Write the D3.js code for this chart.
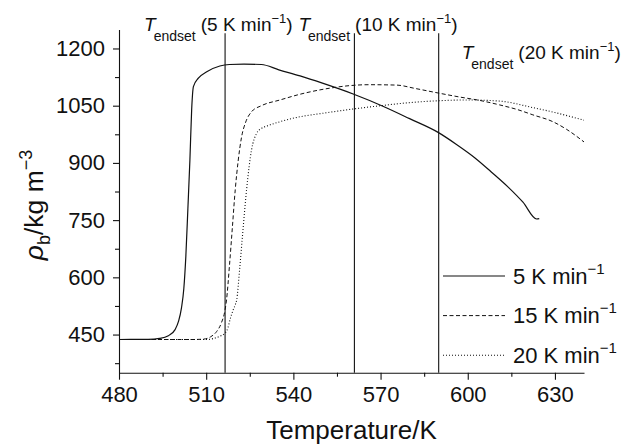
<!DOCTYPE html>
<html>
<head>
<meta charset="utf-8">
<script src="https://cdn.jsdelivr.net/npm/d3@7"></script>
<style>
  body { margin: 0; background: #fff; }
  text { font-family: "Liberation Sans", Arial, Helvetica, sans-serif; fill: #111; }
</style>
</head>
<body>
<script>
// heating rate 5 K/min (solid)
const temp5 = [480, 490, 494, 497, 499.3, 500.5, 501.5, 502.3, 503, 503.7, 504.4, 505, 505.6, 507.3, 510.2, 514.7, 518, 523, 529, 535, 542.3, 550, 560.8, 571, 580, 589.8, 596, 602.5, 608, 614, 619, 623.7, 624.6]
const rho5 = [437, 437.5, 440, 447, 463, 485, 520, 570, 655, 780, 908, 1039, 1100, 1122, 1139, 1154, 1158, 1159, 1158, 1144, 1128, 1109, 1080, 1048, 1016, 980, 949, 913, 877, 836, 797, 753, 754]
// heating rate 15 K/min (dashed)
const temp15 = [480, 505, 509, 511.5, 513.6, 515.2, 516.5, 517, 518, 519, 520, 521, 522.2, 523.5, 525.6, 529, 535.4, 542.3, 552.6, 560, 566, 575.5, 582, 590, 597, 604, 611, 617, 622.4, 629.3, 634, 640]
const rho15 = [437, 437, 438, 444, 458, 480, 515, 541, 630, 730, 830, 905, 969, 1005, 1034, 1050, 1065, 1080, 1096, 1103, 1105, 1104, 1095, 1083, 1073, 1064, 1052, 1040, 1026, 1008, 988, 955]
// heating rate 20 K/min (dotted)
const temp20 = [480, 510, 512.4, 514.5, 516.5, 517.5, 518.2, 519.3, 520, 520.5, 521.5, 522.5, 523.9, 525.6, 527.4, 529.1, 531, 535.4, 542.3, 550, 558.3, 570, 580, 590, 600, 611, 622.4, 630, 640]
const rho20 = [437, 437, 439.5, 445, 454, 468, 489, 515, 528, 541, 620, 710, 830, 934, 978, 991, 997, 1008, 1021, 1030, 1039, 1050, 1058, 1063, 1065, 1062, 1045, 1032, 1012]

const endsetTemps = [516.5, 561, 590]
const endsetRates = ['5', '10', '20']
const legendRates = ['5', '15', '20']

const xTicks = [480, 510, 540, 570, 600, 630]
const xMinor = [495, 525, 555, 585, 615]
const yTicks = [450, 600, 750, 900, 1050, 1200]
const yMinor = [375, 525, 675, 825, 975, 1125]

const W = 623, H = 447
const styles = [
  { dash: null, width: 1.2 },
  { dash: '4,2.5', width: 1 },
  { dash: '1,2', width: 1.1 }
]

const svg = d3.select('body').append('svg')
  .attr('width', W)
  .attr('height', H)

const x = d3.scaleLinear().domain([480, 640]).range([119, 584])
const y = d3.scaleLinear().domain([350, 1250]).range([372.7, 29.4])
const fmt = d3.format('d')

// axes
svg.append('g')
  .attr('transform', 'translate(0,' + y(350) + ')')
  .call(d3.axisBottom(x).tickValues(xTicks).tickFormat(fmt).tickSize(7).tickPadding(7).tickSizeOuter(0))
svg.append('g')
  .attr('transform', 'translate(0,' + y(350) + ')')
  .call(d3.axisBottom(x).tickValues(xMinor).tickSize(4).tickFormat('').tickSizeOuter(0))
  .select('.domain').remove()

svg.append('g')
  .attr('transform', 'translate(' + x(480) + ',0)')
  .call(d3.axisLeft(y).tickValues(yTicks).tickFormat(fmt).tickSize(6).tickPadding(8).tickSizeOuter(0))
svg.append('g')
  .attr('transform', 'translate(' + x(480) + ',0)')
  .call(d3.axisLeft(y).tickValues(yMinor).tickSize(4).tickFormat('').tickSizeOuter(0))
  .select('.domain').remove()

svg.selectAll('.domain, .tick line').attr('stroke', '#111').attr('stroke-width', 1.1)
svg.selectAll('.tick text')
  .attr('font-family', '"Liberation Sans", Arial, sans-serif')
  .attr('font-size', 22)
  .attr('fill', '#111')

// endset lines
svg.selectAll('line.endset')
  .data(endsetTemps)
  .enter()
  .append('line')
  .attr('class', 'endset')
  .attr('x1', d => x(d)).attr('x2', d => x(d))
  .attr('y1', y(350)).attr('y2', y(1240))
  .attr('stroke', '#111')
  .attr('stroke-width', 1.1)

// curves
const series = [[temp5, rho5], [temp15, rho15], [temp20, rho20]]
const line = d3.line().x(d => x(d[0])).y(d => y(d[1])).curve(d3.curveMonotoneX)
series.forEach((s, i) => {
  const pts = s[0].map((t, j) => [t, s[1][j]])
  svg.append('path')
    .datum(pts)
    .attr('d', line)
    .attr('fill', 'none')
    .attr('stroke', '#111')
    .attr('stroke-width', styles[i].width)
    .attr('stroke-dasharray', styles[i].dash)
})

// endset labels
const labelPos = [{ dx: -81, y: 31 }, { dx: -56, y: 31 }, { dx: 23, y: 59 }]
endsetTemps.forEach((t, i) => {
  const txt = svg.append('text')
    .attr('x', x(t) + labelPos[i].dx)
    .attr('y', labelPos[i].y)
    .attr('font-size', 19)
  txt.append('tspan').attr('font-style', 'italic').text('T')
  txt.append('tspan').attr('font-size', 14).attr('dx', -2).attr('dy', 10).text('endset')
  txt.append('tspan').attr('dx', 5).attr('dy', -10).text('(' + endsetRates[i] + ' K min')
  txt.append('tspan').attr('font-size', 13).attr('dy', -8).text('\u22121')
  txt.append('tspan').attr('dy', 8).text(')')
})

// legend
const legend = svg.selectAll('g.leg')
  .data(legendRates)
  .enter()
  .append('g')
  .attr('class', 'leg')
  .attr('transform', (d, i) => 'translate(443,' + (276 + i * 39.6) + ')')
legend.append('line')
  .attr('x1', 0).attr('x2', 62)
  .attr('stroke', '#111')
  .attr('stroke-width', (d, i) => styles[i].width)
  .attr('stroke-dasharray', (d, i) => styles[i].dash)
const lt = legend.append('text')
  .attr('x', 70).attr('y', 7.5)
  .attr('font-size', 22)
lt.append('tspan').text(d => d + ' K min')
lt.append('tspan').attr('font-size', 15).attr('dy', -10).text('\u22121')

// axis titles
svg.append('text')
  .attr('x', (x(480) + x(640)) / 2)
  .attr('y', 439)
  .attr('text-anchor', 'middle')
  .attr('font-size', 26)
  .text('Temperature/K')

const yt = svg.append('text')
  .attr('transform', 'translate(43,205) rotate(-90)')
  .attr('text-anchor', 'middle')
  .attr('font-size', 26.5)
yt.append('tspan').attr('font-style', 'italic').text('\u03c1')
yt.append('tspan').attr('font-size', 18).attr('dy', 7).text('b')
yt.append('tspan').attr('dy', -7).text('/kg m')
yt.append('tspan').attr('font-size', 18).attr('dy', -11).text('\u22123')
</script>
</body>
</html>
